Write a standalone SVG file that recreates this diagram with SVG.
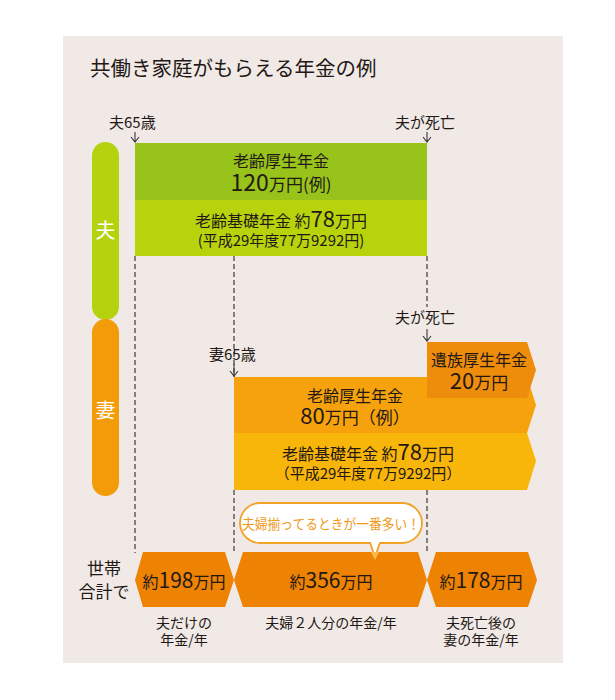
<svg xmlns="http://www.w3.org/2000/svg" width="615" height="700" viewBox="0 0 615 700">
<defs>
<style>
text{font-family:"Noto Sans CJK JP","Noto Sans",sans-serif;fill:#231815;}
.t{font-size:15px;}
.c{text-anchor:middle;}
.w{fill:#ffffff;font-size:20px;text-anchor:middle;}
.big{font-size:22px;}
.dash{stroke:#3a3a3a;stroke-width:1.2;stroke-dasharray:5 3;fill:none;}
.arr{stroke:#3a3a3a;stroke-width:1.1;fill:none;}
.hex{fill:#ed8203;}
</style>
</defs>
<rect x="63" y="36" width="500" height="627" fill="#f0e9e6"/>
<text x="90" y="76" font-size="20.5">共働き家庭がもらえる年金の例</text>

<g id="pill-husband">
<rect x="92" y="142" width="27" height="178" rx="13.5" fill="#b5d20f"/>
<text class="w" x="105.5" y="238">夫</text>
</g>
<g id="pill-wife">
<rect x="92" y="319" width="27" height="177" rx="13.5" fill="#f39c0a"/>
<text class="w" x="105.5" y="418">妻</text>
</g>

<g id="husband-kosei">
<rect x="135" y="143" width="292" height="57" fill="#97c31b"/>
<text class="c" x="281" y="167" font-size="16">老齢厚生年金</text>
<text class="c" x="281" y="191" font-size="17"><tspan font-size="23">120</tspan>万円(例)</text>
</g>
<g id="husband-kiso">
<rect x="135" y="200" width="292" height="56" fill="#b8d30c"/>
<text class="c" x="281" y="227" font-size="16">老齢基礎年金 約<tspan font-size="22">78</tspan>万円</text>
<text class="c" x="281" y="246" font-size="15">(平成29年度77万9292円)</text>
</g>

<g id="connectors">
<line class="dash" x1="135" y1="256" x2="135" y2="553"/>
<line class="dash" x1="234" y1="256" x2="234" y2="377"/>
<line class="dash" x1="234" y1="490" x2="234" y2="553"/>
<line class="dash" x1="427" y1="256" x2="427" y2="307"/>
<line class="dash" x1="427" y1="490" x2="427" y2="553"/>
<path class="arr" d="M135 132V142M131 137L135 142L139 137"/>
<path class="arr" d="M427 132V142M423 137L427 142L431 137"/>
<path class="arr" d="M234 364V376M230 371L234 376L238 371"/>
<path class="arr" d="M427 329V341M423 336L427 341L431 336"/>
</g>

<g id="labels">
<text x="109" y="128" font-size="15">夫65歳</text>
<text x="395" y="128" font-size="15">夫が死亡</text>
<text x="395" y="323" font-size="15">夫が死亡</text>
<text x="209" y="360" font-size="15">妻65歳</text>
</g>

<g id="wife-kosei">
<polygon points="234,377 527,377 536,405 527,433 234,433" fill="#f5a20c"/>
<text class="c" x="355" y="402" font-size="16">老齢厚生年金</text>
<text class="c" x="355" y="424" font-size="17"><tspan font-size="22">80</tspan>万円（例）</text>
</g>
<g id="wife-kiso">
<polygon points="234,433 527,433 536,461 527,490 234,490" fill="#f8b50a"/>
<text class="c" x="368" y="460" font-size="16">老齢基礎年金 約<tspan font-size="22">78</tspan>万円</text>
<text class="c" x="368" y="479" font-size="15">（平成29年度77万9292円）</text>
</g>
<g id="wife-izoku">
<polygon points="427,342 527,342 536,370 527,398 427,398" fill="#ee8c0c"/>
<text class="c" x="479" y="366" font-size="16">遺族厚生年金</text>
<text class="c" x="479" y="389" font-size="17"><tspan font-size="22">20</tspan>万円</text>
</g>

<g id="bubble">
<path d="M370 542L375 558L380 542" fill="#ffffff" stroke="#f2a227" stroke-width="1.8"/>
<rect x="240" y="503" width="182" height="40" rx="20" fill="#ffffff" stroke="#f2a227" stroke-width="1.8"/>
<rect x="371" y="540" width="8" height="4" fill="#ffffff"/>
<text x="331" y="529" font-size="14" text-anchor="middle" style="fill:#f09a1a" textLength="178" lengthAdjust="spacingAndGlyphs">夫婦揃ってるときが一番多い！</text>
</g>

<g id="total-label">
<text x="104" y="575" font-size="17" class="c">世帯</text>
<text x="104" y="598" font-size="17" class="c">合計で</text>
</g>

<g id="total-husband">
<polygon class="hex" points="135,580 143,552 225,552 234,580 225,607 143,607"/>
<text class="c" x="184" y="588" font-size="16">約<tspan font-size="21">198</tspan>万円</text>
<text class="c" x="184" y="628" font-size="14">夫だけの</text>
<text class="c" x="184" y="645" font-size="14">年金/年</text>
</g>
<g id="total-both">
<polygon class="hex" points="234,580 243,552 418,552 427,580 418,607 243,607"/>
<path d="M371 552L375 560L379 552Z" fill="#f8b84a"/>
<text class="c" x="331" y="588" font-size="16">約<tspan font-size="21">356</tspan>万円</text>
<text class="c" x="331" y="628" font-size="14">夫婦２人分の年金/年</text>
</g>
<g id="total-wife">
<polygon class="hex" points="427,580 436,552 528,552 537,580 528,607 436,607"/>
<text class="c" x="481" y="588" font-size="16">約<tspan font-size="21">178</tspan>万円</text>
<text class="c" x="481" y="628" font-size="14">夫死亡後の</text>
<text class="c" x="481" y="645" font-size="14">妻の年金/年</text>
</g>
</svg>
